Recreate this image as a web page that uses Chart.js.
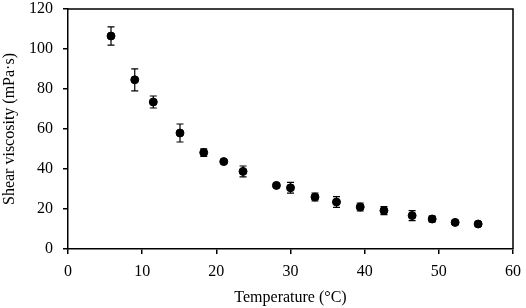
<!DOCTYPE html>
<html>
<head>
<meta charset="utf-8">
<script src="https://cdn.jsdelivr.net/npm/chart.js@4/dist/chart.umd.min.js"></script>
<style>
  html, body { margin: 0; padding: 0; background: #fff; }
  #wrap { width: 526px; height: 308px; }
</style>
</head>
<body>
<div id="wrap"><canvas id="myChart" width="526" height="308"></canvas></div>
<script>
// temperature (°C)
const temps = [5.8, 9.0, 11.5, 15.1, 18.3, 21.0, 23.6, 28.1, 30.0, 33.3, 36.2, 39.4, 42.6, 46.4, 49.1, 52.2, 55.3];
// shear viscosity (mPa·s)
const viscosity = [106.5, 84.6, 73.5, 58.0, 48.2, 43.7, 38.8, 31.8, 30.6, 26.0, 23.5, 21.0, 19.2, 16.7, 15.0, 13.3, 12.5];
// standard deviation
const errors = [4.6, 5.5, 3.0, 4.5, 1.9, 0.8, 2.7, 0.6, 2.7, 2.0, 2.7, 2.0, 2.0, 2.5, 1.5, 1.0, 1.0];

const xTicks = [0, 10, 20, 30, 40, 50, 60];
const yTicks = [0, 20, 40, 60, 80, 100, 120];

const font = { family: '"Liberation Serif", "Times New Roman", serif', size: 16 };

const errorBars = {
  id: 'errorBars',
  afterDatasetsDraw(chart) {
    const ctx = chart.ctx;
    const xs = chart.scales.x, ys = chart.scales.y;
    ctx.save();
    ctx.strokeStyle = '#000';
    ctx.lineWidth = 1.2;
    temps.forEach((t, i) => {
      const px = xs.getPixelForValue(t);
      const top = ys.getPixelForValue(viscosity[i] + errors[i]);
      const bot = ys.getPixelForValue(viscosity[i] - errors[i]);
      ctx.beginPath();
      ctx.moveTo(px, top); ctx.lineTo(px, bot);
      ctx.moveTo(px - 3.5, top); ctx.lineTo(px + 3.5, top);
      ctx.moveTo(px - 3.5, bot); ctx.lineTo(px + 3.5, bot);
      ctx.stroke();
    });
    ctx.restore();
  }
};

const frame = {
  id: 'frame',
  afterDraw(chart) {
    const a = chart.chartArea;
    const ctx = chart.ctx;
    ctx.save();
    ctx.strokeStyle = '#000';
    ctx.lineWidth = 1.5;
    ctx.beginPath();
    ctx.moveTo(a.left, a.top); ctx.lineTo(a.right, a.top); ctx.lineTo(a.right, a.bottom);
    ctx.stroke();
    ctx.restore();
  }
};

new Chart(document.getElementById('myChart').getContext('2d'), {
  type: 'scatter',
  data: {
    datasets: [{
      label: 'Shear viscosity',
      data: temps.map((t, i) => ({ x: t, y: viscosity[i] })),
      backgroundColor: '#000',
      borderColor: '#000',
      pointRadius: 4,
      pointHoverRadius: 4
    }]
  },
  options: {
    responsive: false,
    animation: false,
    layout: { padding: { top: 9, right: 13, left: 0, bottom: 0 } },
    plugins: { legend: { display: false }, tooltip: { enabled: false } },
    scales: {
      x: {
        type: 'linear',
        min: 0, max: 60,
        afterBuildTicks: s => { s.ticks = xTicks.map(v => ({ value: v })); },
        afterFit: s => { s.height = 59; s.paddingLeft = 0; s.paddingRight = 0; },
        border: { color: '#000', width: 1.5 },
        grid: { drawOnChartArea: false, color: '#000', tickLength: 5, lineWidth: 1.5 },
        ticks: { color: '#000', font, padding: 8, maxRotation: 0 },
        title: { display: true, text: 'Temperature (°C)', color: '#000', font, padding: { top: 0, bottom: 1 } }
      },
      y: {
        type: 'linear',
        min: 0, max: 120,
        afterBuildTicks: s => { s.ticks = yTicks.map(v => ({ value: v })); },
        afterFit: s => { s.width = 68; s.paddingTop = 0; s.paddingBottom = 0; },
        border: { color: '#000', width: 1.5 },
        grid: { drawOnChartArea: false, color: '#000', tickLength: 5, lineWidth: 1.5 },
        ticks: { color: '#000', font, padding: 10 },
        title: { display: true, text: 'Shear viscosity (mPa·s)', color: '#000', font, padding: { top: 0, bottom: 0 } }
      }
    }
  },
  plugins: [errorBars, frame]
});
</script>
</body>
</html>
